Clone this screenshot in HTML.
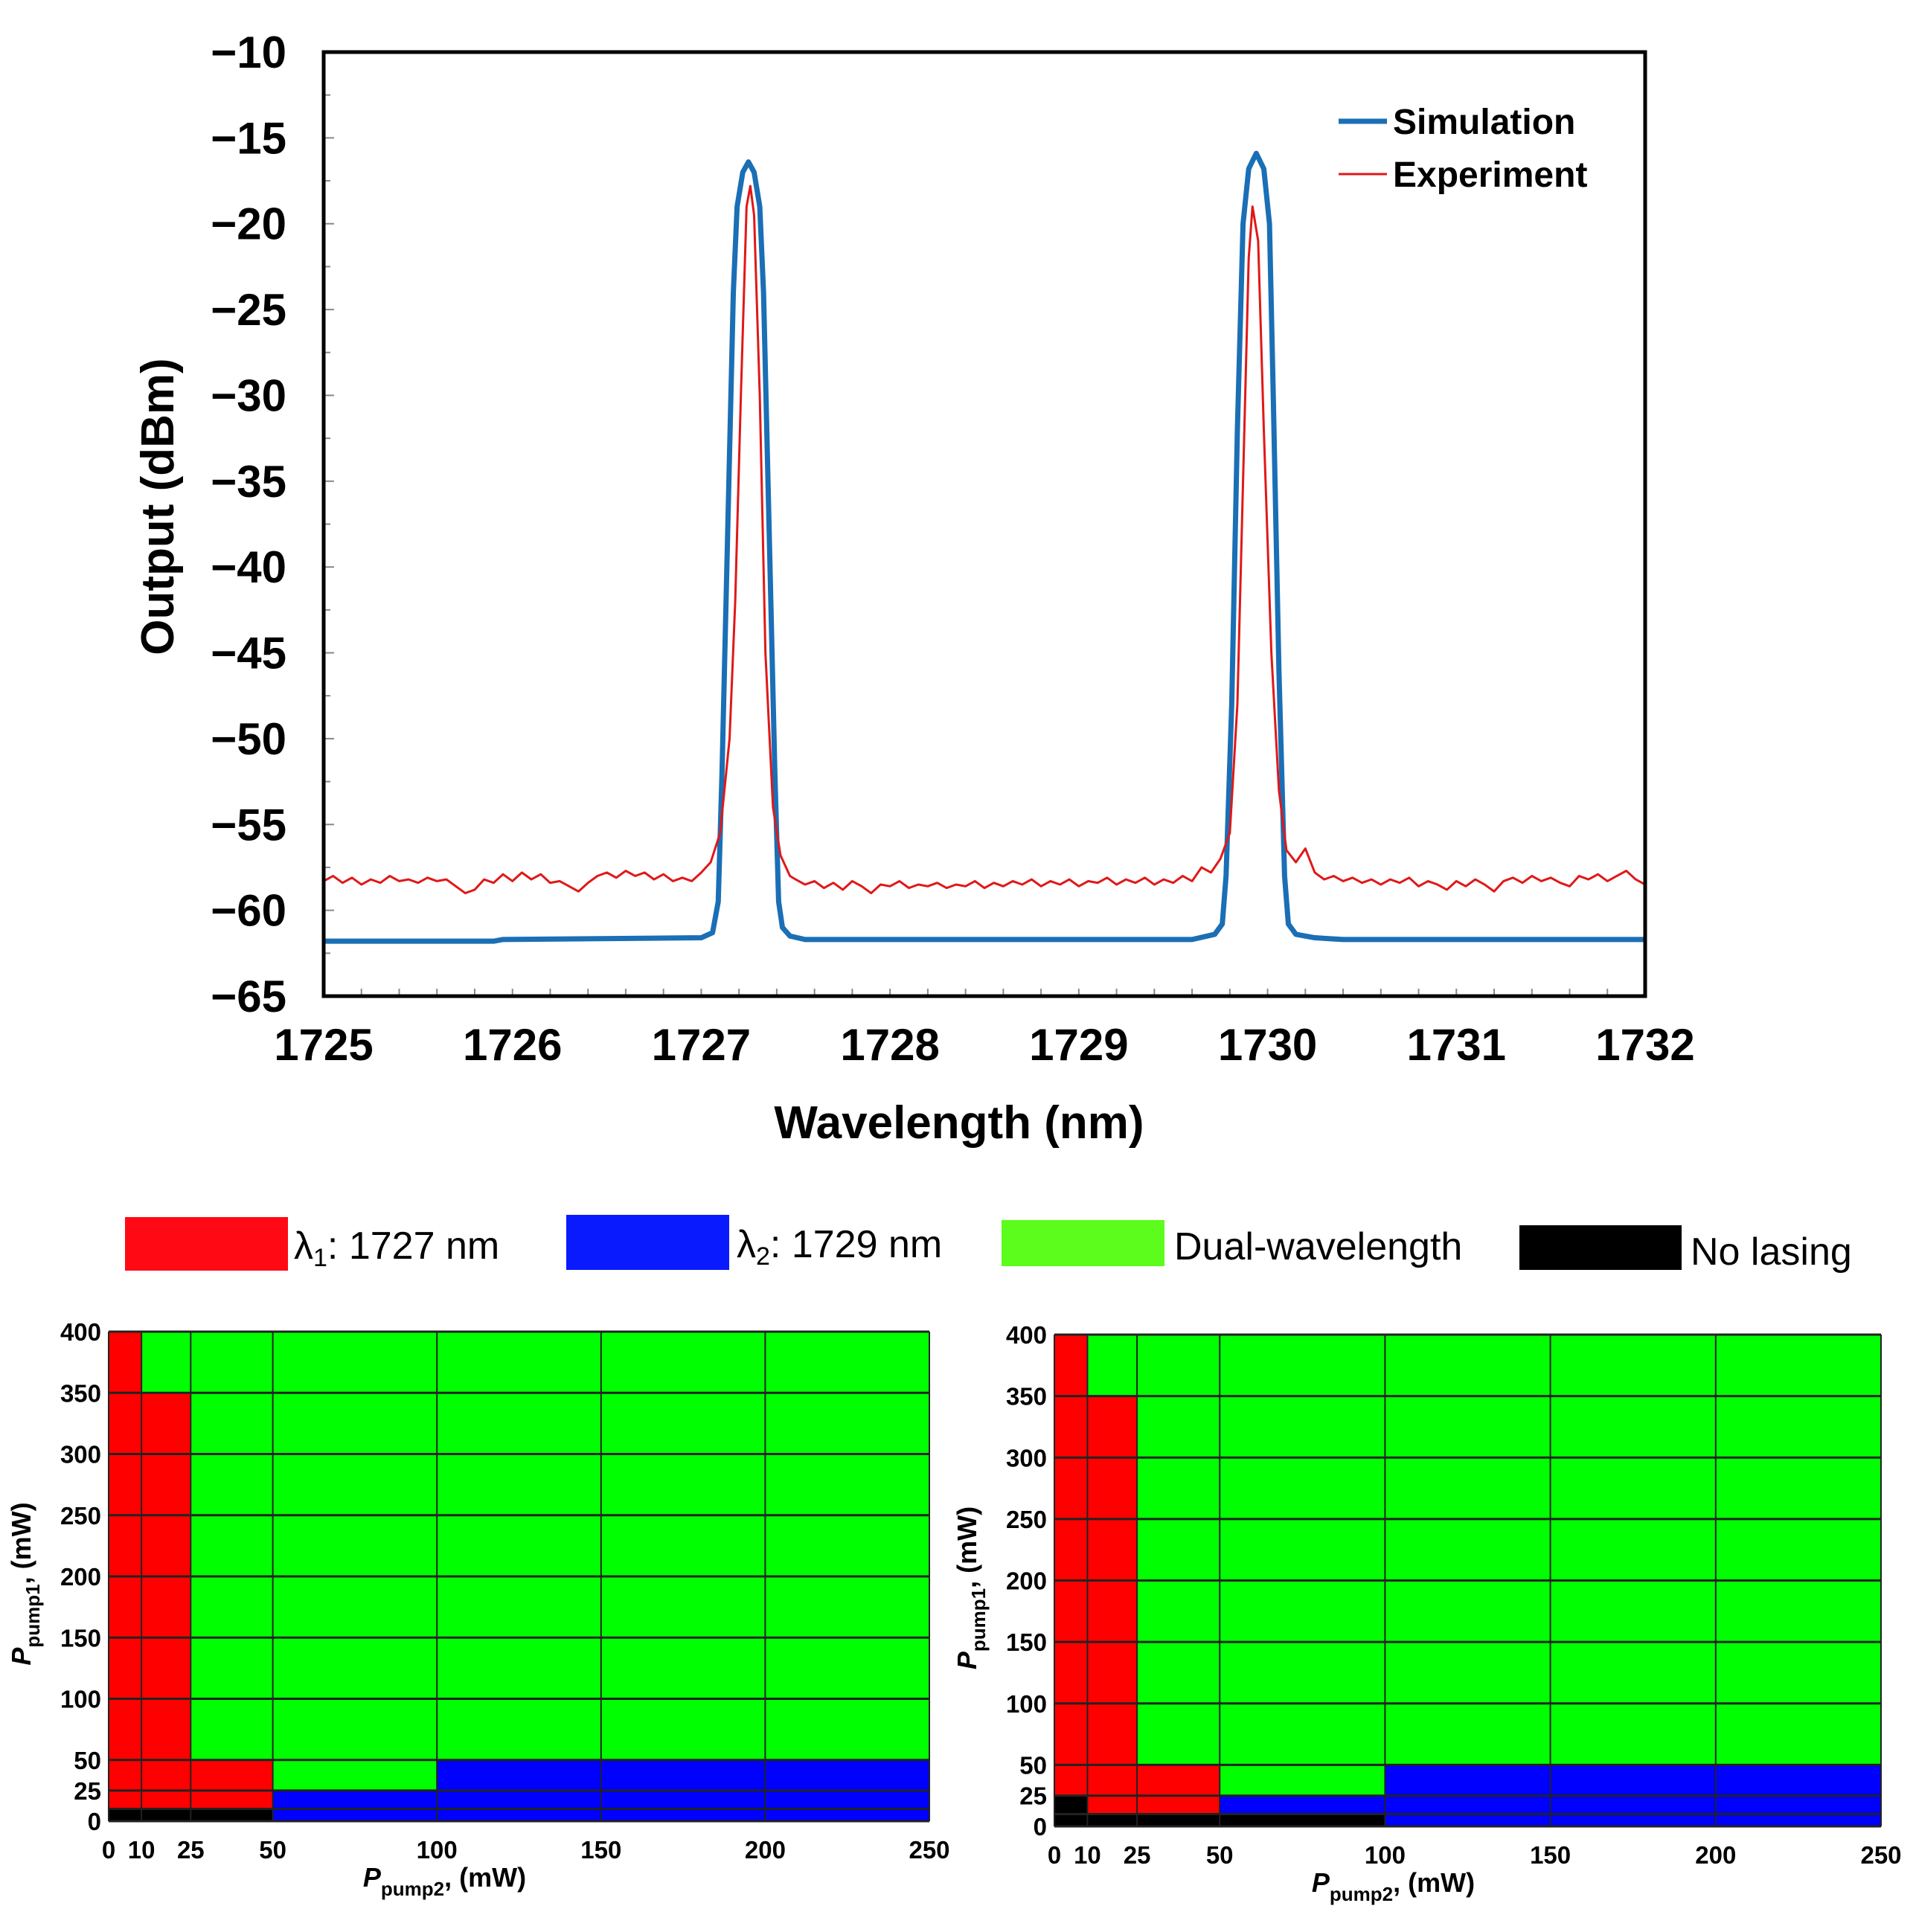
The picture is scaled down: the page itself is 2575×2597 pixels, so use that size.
<!DOCTYPE html>
<html><head><meta charset="utf-8"><style>
html,body{margin:0;padding:0;background:#fff;}
svg{display:block;font-family:"Liberation Sans",sans-serif;}
</style></head><body>
<svg id="svg" width="2575" height="2597" viewBox="0 0 2575 2597" xmlns="http://www.w3.org/2000/svg">
<g id="spec"></g>
<g id="legend2">
 <rect x="168" y="1636" width="219" height="72" fill="#ff0a14"/>
 <text x="395" y="1692" font-size="52">λ<tspan font-size="34" dy="10">1</tspan><tspan dy="-10">: 1727 nm</tspan></text>
 <rect x="761" y="1633" width="219" height="74" fill="#0a1aff"/>
 <text x="990" y="1690" font-size="52">λ<tspan font-size="34" dy="10">2</tspan><tspan dy="-10">: 1729 nm</tspan></text>
 <rect x="1346" y="1640" width="219" height="62" fill="#5cfc1c"/>
 <text x="1578" y="1693" font-size="52">Dual-wavelength</text>
 <rect x="2042" y="1647" width="218" height="60" fill="#000"/>
 <text x="2272" y="1700" font-size="52">No lasing</text>
</g>
<g id="mapL"></g>
<g id="mapR"></g>
</svg>
<script>
// ---- spectrum data ----
const xTicks = [1725,1726,1727,1728,1729,1730,1731,1732];
const yTicks = [-10,-15,-20,-25,-30,-35,-40,-45,-50,-55,-60,-65];
const simX = [1725,1725.9,1725.95,1727.0,1727.06,1727.09,1727.11,1727.14,1727.17,1727.19,1727.22,1727.25,1727.28,1727.31,1727.33,1727.36,1727.39,1727.41,1727.43,1727.47,1727.55,1727.7,1729.6,1729.72,1729.76,1729.78,1729.81,1729.84,1729.87,1729.9,1729.94,1729.98,1730.01,1730.03,1730.06,1730.09,1730.11,1730.15,1730.25,1730.4,1732];
const simY = [-61.8,-61.8,-61.7,-61.6,-61.3,-59.5,-52,-38,-24,-19,-17,-16.4,-17,-19,-24,-38,-52,-59.5,-61.0,-61.5,-61.7,-61.7,-61.7,-61.4,-60.8,-58,-48,-32,-20,-16.8,-15.9,-16.8,-20,-30,-46,-58,-60.8,-61.4,-61.6,-61.7,-61.7];
const expSegAStart = 1725.0;
const expSegA = [-58.3,-58.0,-58.4,-58.1,-58.5,-58.2,-58.4,-58.0,-58.3,-58.2,-58.4,-58.1,-58.3,-58.2,-58.6,-59.0,-58.8,-58.2,-58.4,-57.9,-58.3,-57.8,-58.2,-57.9,-58.4,-58.3,-58.6,-58.9,-58.4,-58.0,-57.8,-58.1,-57.7,-58.0,-57.8,-58.2,-57.9,-58.3,-58.1,-58.3,-57.8];
const expPeak1X = [1727.05,1727.1,1727.15,1727.18,1727.21,1727.24,1727.26,1727.28,1727.31,1727.34,1727.38,1727.42,1727.47];
const expPeak1Y = [-57.2,-55.5,-50,-42,-30,-19,-17.8,-19.5,-30,-45,-54,-56.8,-58.0];
const expSegBStart = 1727.5;
const expSegB = [-58.2,-58.5,-58.3,-58.7,-58.4,-58.8,-58.3,-58.6,-59.0,-58.5,-58.6,-58.3,-58.7,-58.5,-58.6,-58.4,-58.7,-58.5,-58.6,-58.3,-58.7,-58.4,-58.6,-58.3,-58.5,-58.2,-58.6,-58.3,-58.5,-58.2,-58.6,-58.3,-58.4,-58.1,-58.5,-58.2,-58.4,-58.1,-58.5,-58.2,-58.4,-58.0,-58.3,-57.5,-57.8];
const expPeak2X = [1729.75,1729.8,1729.84,1729.87,1729.9,1729.92,1729.95,1729.98,1730.02,1730.06,1730.1,1730.15,1730.2,1730.25];
const expPeak2Y = [-57.0,-55.5,-48,-35,-22,-19,-21,-32,-45,-53,-56.5,-57.2,-56.4,-57.8];
const expSegCStart = 1730.3;
const expSegC = [-58.2,-58.0,-58.3,-58.1,-58.4,-58.2,-58.5,-58.2,-58.4,-58.1,-58.6,-58.3,-58.5,-58.8,-58.3,-58.6,-58.2,-58.5,-58.9,-58.3,-58.1,-58.4,-58.0,-58.3,-58.1,-58.4,-58.6,-58.0,-58.2,-57.9,-58.3,-58.0,-57.7,-58.2,-58.5];
const segStep = 0.05;

// ---- map data ----
const colEdges = [0,10,25,50,100,150,200,250];
const rowEdges = [0,10,25,50,100,150,200,250,300,350,400];
const xMapTicks = [0,10,25,50,100,150,200,250];
const yMapTicks = [0,25,50,100,150,200,250,300,350,400];
// codes: R=λ1, B=λ2, G=dual, K=no lasing ; rows bottom->top, cols left->right
const leftMap = ["KKKBBBB","RRRBBBB","RRRGBBB","RRGGGGG","RRGGGGG","RRGGGGG","RRGGGGG","RRGGGGG","RRGGGGG","RGGGGGG"];
const rightMap = ["KKKKBBB","KRRBBBB","RRRGBBB","RRGGGGG","RRGGGGG","RRGGGGG","RRGGGGG","RRGGGGG","RRGGGGG","RGGGGGG"];

const NS="http://www.w3.org/2000/svg";
function mk(parent,tag,attrs,text){const e=document.createElementNS(NS,tag);for(const k in attrs)e.setAttribute(k,attrs[k]);if(text!==undefined)e.textContent=text;parent.appendChild(e);return e;}

const PL=435,PR=2211,PT=70,PB=1339;
const X=v=>PL+(v-1725)/7*(PR-PL);
const Y=v=>PT+(-10-v)/55*(PB-PT);
const sp=document.getElementById('spec');
for(let v=-10;v>=-65;v-=2.5){const t=mk(sp,'line',{x1:PL,x2:PL+(v%5===0?14:9),y1:Y(v),y2:Y(v),stroke:'#888','stroke-width':2});

}
for(let v=1725;v<=1732.001;v+=0.2){const t=mk(sp,'line',{x1:X(v),x2:X(v),y1:PB,y2:PB-10,stroke:'#888','stroke-width':2});

}
yTicks.forEach(v=>{const t=mk(sp,'text',{x:385,y:Y(v)+21,'font-size':60,'font-weight':'bold','text-anchor':'end'},'\u2212'+Math.abs(v));

});
xTicks.forEach(v=>{const t=mk(sp,'text',{x:X(v),y:1425,'font-size':60,'font-weight':'bold','text-anchor':'middle'},String(v));

});
let tt=mk(sp,'text',{x:1289,y:1530,'font-size':62,'font-weight':'bold','text-anchor':'middle'},'Wavelength (nm)');


tt=mk(sp,'text',{x:0,y:0,'font-size':62,'font-weight':'bold','text-anchor':'middle',transform:'translate(233,681) rotate(-90)'},'Output (dBm)');



const ex=[],ey=[];
expSegA.forEach((v,i)=>{ex.push(expSegAStart+i*segStep);ey.push(v);});
expPeak1X.forEach((v,i)=>{ex.push(v);ey.push(expPeak1Y[i]);});
expSegB.forEach((v,i)=>{ex.push(expSegBStart+i*segStep);ey.push(v);});
expPeak2X.forEach((v,i)=>{ex.push(v);ey.push(expPeak2Y[i]);});
expSegC.forEach((v,i)=>{ex.push(expSegCStart+i*segStep);ey.push(v);});
let p=mk(sp,'polyline',{points:simX.map((v,i)=>X(v)+','+Y(simY[i])).join(' '),fill:'none',stroke:'#1a6fb5','stroke-width':7,'stroke-linejoin':'round'});


p=mk(sp,'polyline',{points:ex.map((v,i)=>X(v)+','+Y(ey[i])).join(' '),fill:'none',stroke:'#e01818','stroke-width':3,'stroke-linejoin':'round'});


p=mk(sp,'rect',{x:PL,y:PT,width:PR-PL,height:PB-PT,fill:'none',stroke:'#000','stroke-width':5});


p=mk(sp,'line',{x1:1799,x2:1864,y1:163,y2:163,stroke:'#1a6fb5','stroke-width':7});


p=mk(sp,'text',{x:1872,y:180,'font-size':48,'font-weight':'bold'},'Simulation');


p=mk(sp,'line',{x1:1799,x2:1864,y1:234,y2:234,stroke:'#e01818','stroke-width':3});


p=mk(sp,'text',{x:1872,y:251,'font-size':48,'font-weight':'bold'},'Experiment');



const colors={R:'#ff0000',B:'#0000ff',G:'#00ff00',K:'#000000'};
function drawMap(g,data,L,R,T,B){
 const mx=v=>L+v/250*(R-L), my=v=>B-v/400*(B-T);
 data.forEach((row,ri)=>{[...row].forEach((c,ci)=>{
  const r=mk(g,'rect',{x:mx(colEdges[ci]),y:my(rowEdges[ri+1]),width:mx(colEdges[ci+1])-mx(colEdges[ci]),height:my(rowEdges[ri])-my(rowEdges[ri+1]),fill:colors[c]});
  
  
 });});
 colEdges.forEach(v=>{const l=mk(g,'line',{x1:mx(v),x2:mx(v),y1:T,y2:B,stroke:'#222','stroke-width':2});
  
  });
 rowEdges.forEach(v=>{const l=mk(g,'line',{x1:L,x2:R,y1:my(v),y2:my(v),stroke:'#222','stroke-width':3});
  
  });
 xMapTicks.forEach(v=>{const t=mk(g,'text',{x:mx(v),y:B+50,'font-size':33,'font-weight':'bold','text-anchor':'middle'},String(v));
  
  });
 yMapTicks.forEach(v=>{const t=mk(g,'text',{x:L-10,y:my(v)+12,'font-size':33,'font-weight':'bold','text-anchor':'end'},String(v));
  
  });
 const cx=(L+R)/2-100;
 let t=mk(g,'text',{x:cx,y:B+88,'font-size':36,'font-weight':'bold','text-anchor':'middle'});
 
 
 t.innerHTML='<tspan font-style="italic">P</tspan><tspan font-size="26" dy="12">pump2</tspan><tspan dy="-12">, (mW)</tspan>';
 const cy=(T+B)/2+10;
 t=mk(g,'text',{x:0,y:0,'font-size':36,'font-weight':'bold','text-anchor':'middle',transform:`translate(${L-105},${cy}) rotate(-90)`});
 
 
 t.innerHTML='<tspan font-style="italic">P</tspan><tspan font-size="26" dy="12">pump1</tspan><tspan dy="-12">, (mW)</tspan>';
}
drawMap(document.getElementById('mapL'),leftMap,146,1249,1790,2448);
drawMap(document.getElementById('mapR'),rightMap,1417,2528,1794,2455);
</script>
</body></html>
